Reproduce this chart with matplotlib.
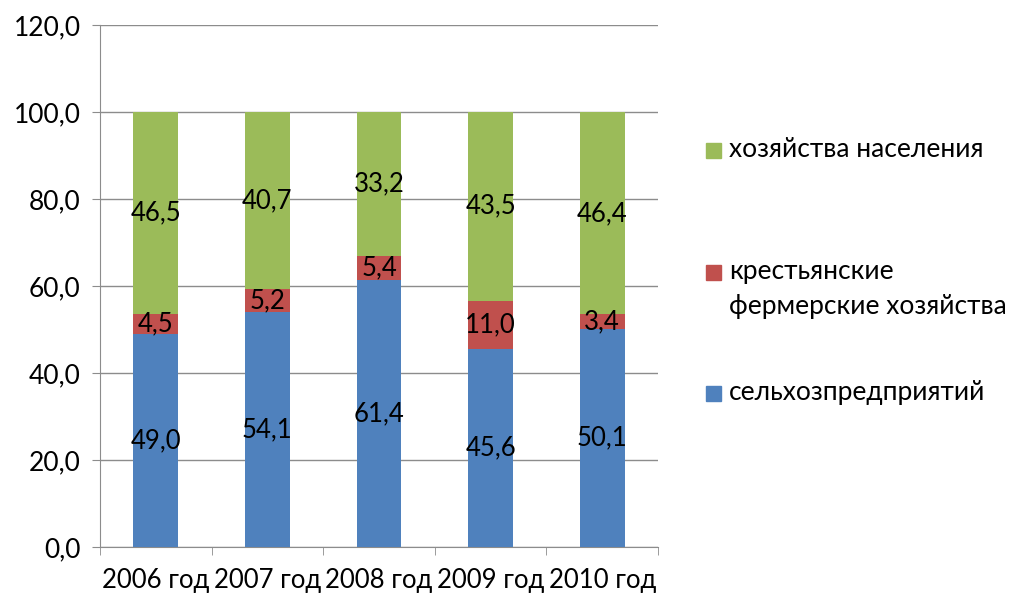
import matplotlib.pyplot as plt
from matplotlib.patches import Rectangle
import numpy as np

plt.rcParams['font.family'] = ['Lato', 'DejaVu Sans']

years = ['2006 год', '2007 год', '2008 год', '2009 год', '2010 год']
selkhoz = [49.0, 54.1, 61.4, 45.6, 50.1]
fermer = [4.5, 5.2, 5.4, 11.0, 3.4]
naselenie = [46.5, 40.7, 33.2, 43.5, 46.4]

names = ['сельхозпредприятий', 'крестьянские\nфермерские хозяйства', 'хозяйства населения']
colors = ['#4F81BD', '#C0504D', '#9BBB59']

W, H = 1014, 597
fig = plt.figure(figsize=(W / 100, H / 100), dpi=100)
ax = fig.add_axes([100 / W, 1 - 547 / H, 558 / W, 522 / H])

x = np.arange(len(years))
bottom = np.zeros(len(years))
for vals, name, col in zip([selkhoz, fermer, naselenie], names, colors):
    vals = np.array(vals)
    ax.bar(x, vals, 0.4, bottom=bottom, color=col, label=name, zorder=3)
    for xi, v, bt in zip(x, vals, bottom):
        ax.text(xi, bt + v / 2, f'{v:.1f}'.replace('.', ','), ha='center', va='center',
                fontsize=18.5, color='black', zorder=4)
    bottom = bottom + vals

ax.set_xlim(-0.5, 4.5)
ax.set_ylim(0, 120)
ax.set_yticks(np.arange(0, 121, 20))
ax.set_yticklabels([f'{v:.1f}'.replace('.', ',') for v in np.arange(0, 121, 20)])
ax.yaxis.grid(True, color='#8C8C8C', linewidth=1, zorder=0)
ax.tick_params(axis='y', length=6, color='#8C8C8C', labelsize=19, pad=8)

ax.set_xticks(x)
ax.set_xticklabels(years)
ax.set_xticks(np.arange(-0.5, 5, 1), minor=True)
ax.tick_params(axis='x', which='major', length=0, labelsize=18.5, pad=15)
ax.tick_params(axis='x', which='minor', length=6, color='#8C8C8C')

for s in ['top', 'right']:
    ax.spines[s].set_visible(False)
for s in ['left', 'bottom']:
    ax.spines[s].set_color('#8C8C8C')

# legend (Excel style: marker next to first line of each entry)
leg_rows = [(colors[2], ['хозяйства населения'], 157),
            (colors[1], ['крестьянские', 'фермерские хозяйства'], 279),
            (colors[0], ['сельхозпредприятий'], 400)]
for col, lines, base in leg_rows:
    fig.add_artist(Rectangle((706 / W, 1 - (base + 1) / H), 15 / W, 15 / H,
                             transform=fig.transFigure, color=col))
    for i, line in enumerate(lines):
        fig.text(729 / W, 1 - (base + 35 * i) / H, line, fontsize=19, va='baseline', ha='left')

fig.savefig('out.png', dpi=100)
